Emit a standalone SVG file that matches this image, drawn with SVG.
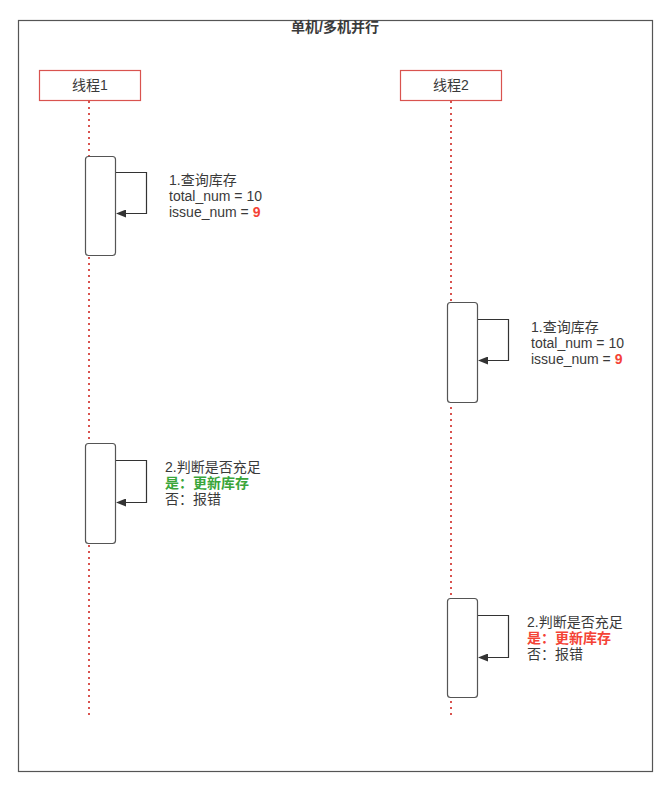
<svg xmlns="http://www.w3.org/2000/svg" width="665" height="785" viewBox="0 0 665 785">
<style>
text{font-family:"Liberation Sans","Noto Sans CJK SC",sans-serif;font-size:14px;fill:#3a3a3a}
.head{fill:#fff;stroke:#d9534f;stroke-width:1.2}
.life{stroke:#d9534f;stroke-width:2;stroke-dasharray:2 4;fill:none}
.act{fill:#fff;stroke:#555;stroke-width:1.2}
.loop{fill:none;stroke:#333;stroke-width:1.2}
.red{fill:#f44336;font-weight:bold}
.green{fill:#3aa53a;font-weight:bold}
</style>
<defs>
<marker id="ah" markerWidth="10" markerHeight="8" refX="9" refY="4" orient="auto" markerUnits="userSpaceOnUse">
<path d="M0,0 L10,4 L0,8 Z" fill="#333"/>
</marker>
</defs>
<rect x="0" y="0" width="665" height="785" fill="#fff"/>
<rect x="18.5" y="20.5" width="634" height="751" fill="none" stroke="#555" stroke-width="1.2"/>
<text x="335" y="32" text-anchor="middle" style="font-weight:bold">单机/多机并行</text>

<g id="thread1">
<line class="life" x1="89" y1="101" x2="89" y2="716"/>
<rect class="head" x="39.5" y="70.5" width="101" height="30"/>
<text x="90" y="90" text-anchor="middle">线程1</text>
</g>
<g id="thread2">
<line class="life" x1="451" y1="101" x2="451" y2="716"/>
<rect class="head" x="400.5" y="70.5" width="101" height="30"/>
<text x="451" y="90" text-anchor="middle">线程2</text>
</g>

<g id="act1">
<rect class="act" x="85.5" y="156.5" width="30" height="99" rx="3"/>
</g>
<g id="act2">
<rect class="act" x="447.5" y="302.5" width="30" height="100" rx="3"/>
</g>
<g id="act3">
<rect class="act" x="85.5" y="443.5" width="30" height="100" rx="3"/>
</g>
<g id="act4">
<rect class="act" x="447.5" y="598.5" width="30" height="99" rx="3"/>
</g>

<g id="connectors">
<path class="loop" d="M116,172.5 H146.5 V213.5 H117" marker-end="url(#ah)"/>
<path class="loop" d="M478,319.5 H508.5 V360.5 H479" marker-end="url(#ah)"/>
<path class="loop" d="M116,460.5 H146.5 V502.5 H117" marker-end="url(#ah)"/>
<path class="loop" d="M478,615.5 H508.5 V657.5 H479" marker-end="url(#ah)"/>
</g>

<g id="label1">
<text x="169" y="185">1.查询库存</text>
<text x="169" y="201">total_num = 10</text>
<text x="169" y="217">issue_num = <tspan class="red">9</tspan></text>
</g>
<g id="label2">
<text x="531" y="332">1.查询库存</text>
<text x="531" y="348">total_num = 10</text>
<text x="531" y="364">issue_num = <tspan class="red">9</tspan></text>
</g>
<g id="label3">
<text x="165" y="472">2.判断是否充足</text>
<text x="165" y="488" class="green">是：更新库存</text>
<text x="165" y="504">否：报错</text>
</g>
<g id="label4">
<text x="527" y="627">2.判断是否充足</text>
<text x="527" y="643" class="red">是：更新库存</text>
<text x="527" y="659">否：报错</text>
</g>
</svg>
